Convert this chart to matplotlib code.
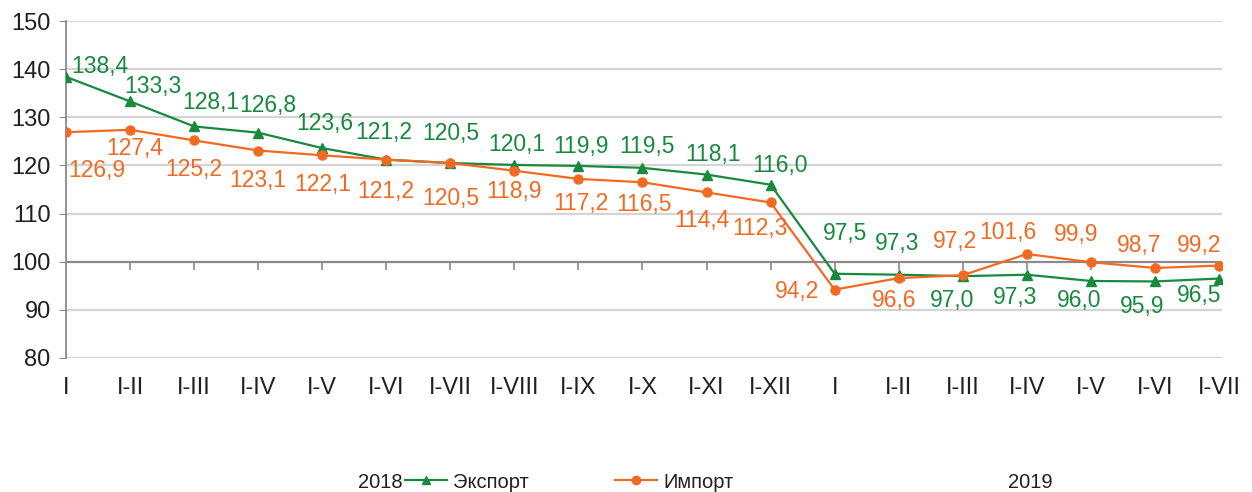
import numpy as np
import matplotlib
matplotlib.use("Agg")
import matplotlib.pyplot as plt
from matplotlib.lines import Line2D

# data
periods = ["I", "I-II", "I-III", "I-IV", "I-V", "I-VI", "I-VII", "I-VIII", "I-IX",
           "I-X", "I-XI", "I-XII", "I", "I-II", "I-III", "I-IV", "I-V", "I-VI", "I-VII"]
export = [138.4, 133.3, 128.1, 126.8, 123.6, 121.2, 120.5, 120.1, 119.9, 119.5,
          118.1, 116.0, 97.5, 97.3, 97.0, 97.3, 96.0, 95.9, 96.5]
imports = [126.9, 127.4, 125.2, 123.1, 122.1, 121.2, 120.5, 118.9, 117.2, 116.5,
           114.4, 112.3, 94.2, 96.6, 97.2, 101.6, 99.9, 98.7, 99.2]
years = ["2018", "2019"]
series_names = ["Экспорт", "Импорт"]

# label offsets (pixels) to mimic the original placement
exp_off = [(34, 10), (23, 15), (17, 24), (10, 27), (3, 25), (-3, 27), (0, 30), (2, 20),
           (3, 19), (5, 21), (6, 20), (9, 19), (10, 40), (-2, 31), (-11, -24), (-12, -23),
           (-12, -20), (-13, -25), (-20, -17)]
imp_off = [(31, -38), (5, -19), (0, -29), (0, -30), (1, -29), (-1, -32), (0, -35), (0, -21),
           (2, -25), (2, -22), (-5, -28), (-11, -26), (-38, -2), (-5, -22), (-8, 34),
           (-19, 22), (-15, 28), (-16, 22), (-20, 20)]

green = "#178a3e"
orange = "#f26a22"
txt = "#231f20"

plt.rcParams["font.family"] = ["Liberation Sans", "DejaVu Sans"]

W, H = 1252, 492
fig = plt.figure(figsize=(W / 100, H / 100), dpi=100)
ax = fig.add_axes([66 / W, (H - 358) / H, (1222 - 66) / W, (358 - 21) / H])

x = np.arange(len(periods))
ymin, ymax = 80, 150
ax.set_ylim(ymin, ymax)
ax.set_xlim(0, len(periods) - 1 + 3 / 64)

for yv in range(80, 151, 10):
    if yv != 100:
        ax.axhline(yv, color="#d4d4d4", lw=1.6, zorder=0)
ax.axhline(100, color="#8a8a8a", lw=1.6, zorder=1)

ax.plot(x, export, color=green, lw=1.6, marker="^", ms=6.5, zorder=3)
ax.plot(x, imports, color=orange, lw=1.6, marker="o", ms=6.5, zorder=3)

for i in range(len(x)):
    ax.annotate(f"{export[i]:.1f}".replace(".", ","), (x[i], export[i]),
                xytext=exp_off[i], textcoords="offset pixels", ha="center", va="center",
                color=green, fontsize=16.5)
    ax.annotate(f"{imports[i]:.1f}".replace(".", ","), (x[i], imports[i]),
                xytext=imp_off[i], textcoords="offset pixels", ha="center", va="center",
                color=orange, fontsize=16.5)

for s in ["top", "right", "bottom"]:
    ax.spines[s].set_visible(False)
ax.spines["left"].set_color("#8a8a8a")
ax.spines["left"].set_linewidth(1.3)

ax.set_yticks(range(80, 151, 10))
ax.tick_params(axis="y", length=5, color="#8a8a8a", labelsize=17, labelcolor=txt, pad=6)
ax.set_xticks(x)
ax.set_xticklabels(periods)
ax.tick_params(axis="x", length=0, labelsize=17, labelcolor=txt, pad=14)

# category axis crossing at 100
sec = ax.secondary_xaxis((100 - ymin) / (ymax - ymin))
sec.set_xticks(x[1:])
sec.set_xticklabels([])
sec.tick_params(length=6, color="#8a8a8a", width=1.2, direction="out")
sec.spines["bottom"].set_visible(False)
sec.spines["top"].set_visible(False)

# legend entries placed like the original, with year captions
handles = [Line2D([], [], color=green, lw=1.6, marker="^", ms=6),
           Line2D([], [], color=orange, lw=1.6, marker="o", ms=6)]
ly = 1 - 482 / H
for h, name, lx in zip(handles, series_names, [405, 615]):
    leg = fig.legend([h], [name], loc="center left", bbox_to_anchor=(lx / W, ly),
                     frameon=False, borderpad=0, borderaxespad=0, handlelength=2.1,
                     handletextpad=0.3, prop={"size": 14.5})
    for t in leg.get_texts():
        t.set_color(txt)
for yr, lx in zip(years, [380, 1030]):
    fig.text(lx / W, ly, yr, ha="center", va="center", fontsize=14.5, color=txt)

fig.savefig("out.png", dpi=100)
